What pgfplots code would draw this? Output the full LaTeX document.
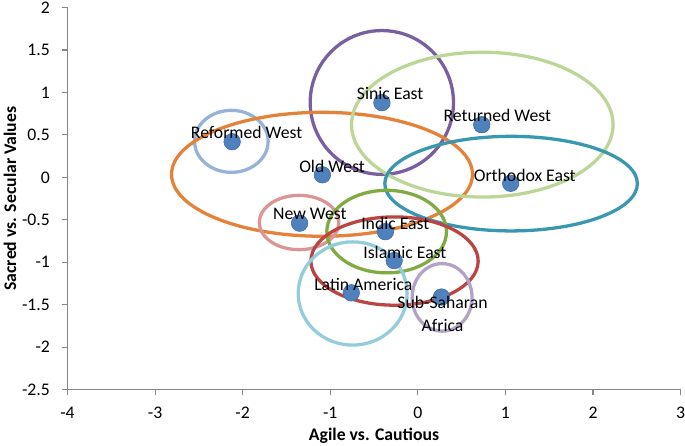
\documentclass[border=0pt]{standalone}
\usepackage{fontspec}
\setmainfont{Carlito}
\usepackage{pgfplots}
\pgfplotsset{compat=1.18}
\definecolor{axgray}{HTML}{868686}
\definecolor{ptblue}{HTML}{4F81BD}
\definecolor{cRef}{HTML}{95B3D7}
\definecolor{cSin}{HTML}{7A5FA0}
\definecolor{cRet}{HTML}{BCD697}
\definecolor{cOld}{HTML}{E4823A}
\definecolor{cOrt}{HTML}{3A97B0}
\definecolor{cNew}{HTML}{D99694}
\definecolor{cInd}{HTML}{7FAB42}
\definecolor{cIsl}{HTML}{BB4542}
\definecolor{cLat}{HTML}{93CDDD}
\definecolor{cSub}{HTML}{B3A2C7}
\begin{document}
\fontsize{12.4}{15}\selectfont
\begin{tikzpicture}
\begin{axis}[name=ax, scale only axis, width=429.6pt, height=267.7pt,
  xmin=-4, xmax=3, ymin=-2.5, ymax=2,
  axis lines=left, axis line style={axgray, line width=0.8pt, -},
  xtick={-4,-3,...,3}, ytick={-2.5,-2,-1.5,-1,-0.5,0,0.5,1,1.5,2},
  tick align=outside, major tick length=4pt,
  tick style={axgray, line width=0.8pt},
  /pgf/number format/assume math mode=true,
  xticklabel style={yshift=-4pt}, yticklabel style={xshift=-4pt},
  xlabel={\bfseries Agile vs. Cautious},
  ylabel={\bfseries Sacred vs. Secular Values},
  xlabel style={at={(axis description cs:0.5,-0.121)}, anchor=center},
  ylabel style={at={(axis description cs:-0.094,0.5)}, anchor=center},
  clip=false]
% ellipses (centre x, centre y, x radius, y radius)
\draw[cRef, line width=2.3pt] (axis cs:-2.129,0.424) ellipse [x radius=0.42, y radius=0.365];
\draw[cSin, line width=2.3pt] (axis cs:-0.411,0.882) ellipse [x radius=0.818, y radius=0.847];
\draw[cOld, line width=2.3pt] (axis cs:-1.094,0.036) ellipse [x radius=1.718, y radius=0.73];
\draw[cRet, line width=2.3pt] (axis cs:0.736,0.621) ellipse [x radius=1.493, y radius=0.853];
\draw[cOrt, line width=2.3pt] (axis cs:1.065,-0.074) ellipse [x radius=1.442, y radius=0.557];
\draw[cNew, line width=2.3pt] (axis cs:-1.356,-0.532) ellipse [x radius=0.454, y radius=0.32];
\draw[cInd, line width=2.3pt] (axis cs:-0.356,-0.639) ellipse [x radius=0.683, y radius=0.486];
\draw[cIsl, line width=2.3pt] (axis cs:-0.266,-0.986) ellipse [x radius=0.955, y radius=0.52];
\draw[cLat, line width=2.3pt] (axis cs:-0.744,-1.368) ellipse [x radius=0.622, y radius=0.608];
\draw[cSub, line width=2.3pt] (axis cs:0.277,-1.414) ellipse [x radius=0.342, y radius=0.398];
% points
\addplot[only marks, mark=*, mark size=5.8pt,
  mark options={fill=ptblue, draw=ptblue!85!black, line width=0.4pt}]
  coordinates {
  (-2.12,0.42) (-0.41,0.88) (0.73,0.62) (-1.09,0.03) (1.06,-0.07)
  (-1.35,-0.54) (-0.37,-0.64) (-0.27,-0.98) (-0.76,-1.36) (0.27,-1.41)};
% labels
\addplot[draw=none, mark=none, nodes near coords, point meta=explicit symbolic,
  nodes near coords style={anchor=center, align=center, inner sep=0pt,
    font=\fontsize{12.4}{15.6}\selectfont, text=black}]
  coordinates {
  (-1.955,0.533) [Reformed West]
  (-0.316,0.992) [Sinic East]
  (0.908,0.729) [Returned West]
  (-0.979,0.133) [Old West]
  (1.221,0.024) [Orthodox East]
  (-1.233,-0.427) [New West]
  (-0.257,-0.537) [Indic East]
  (-0.148,-0.879) [Islamic East]
  (-0.622,-1.262) [Latin America]
  (0.282,-1.61) [Sub-Saharan\\Africa]};
\end{axis}
\pgfresetboundingbox
\path (ax.south west) ++(-47.3pt,-38.9pt) rectangle ++(480pt,311.9pt);
\end{tikzpicture}
\end{document}
